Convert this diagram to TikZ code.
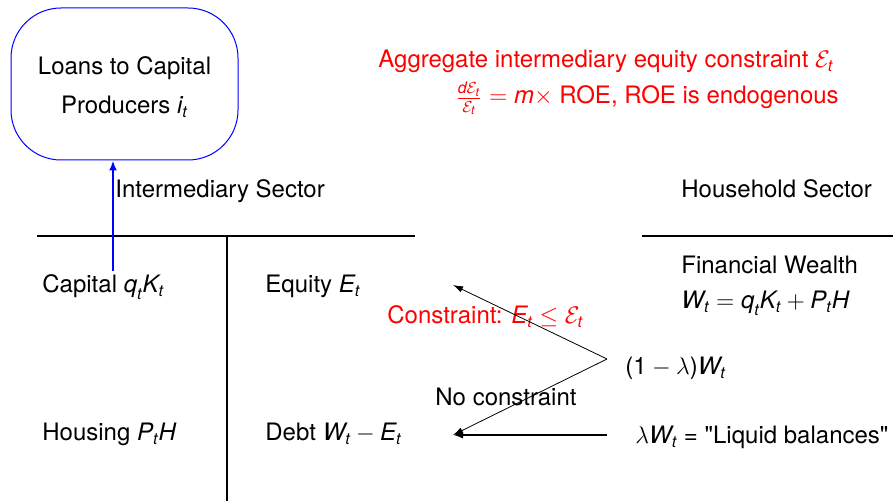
\documentclass[tikz,border=0pt]{standalone}
\usepackage{amsmath}
\usepackage{fontspec}
\setmainfont{TeX Gyre Heros}
\usetikzlibrary{arrows.meta}
\newcommand\vi[1]{\textit{#1}}
\newcommand\sbt[1]{\vi{#1}_{\vi{t}}}
\begin{document}
\begin{tikzpicture}[x=0.5pt,y=-0.5pt,
  font=\fontsize{12}{14.4}\selectfont,
  txt/.style={inner sep=0pt, anchor=base west},
  thinarrow/.style={-{Latex[length=5pt,width=3.2pt]}, line width=0.4pt},
  thickarrow/.style={-{Latex[length=5pt,width=3.6pt]}, line width=0.9pt},
  rulel/.style={line width=0.7pt}]
\useasboundingbox (0,0) rectangle (893,501);
% loans box
\node[draw=blue, line width=0.5pt, rounded corners=25pt, minimum width=113.5pt,
      minimum height=76pt, inner sep=0pt] (loans) at (124.5,84) {};
\node[align=center, inner sep=0pt] (loanstxt) at (124.5,87)
  {Loans to Capital\\[5pt] Producers $\sbt{i}$};
% red texts
\node[txt, text=red] (agg) at (378,68) {Aggregate intermediary equity constraint $\mathcal{E}_{\vi{t}}$};
\node[txt, text=red] (roe) at (455,104) {$\frac{\vi{d}\mathcal{E}_{\vi{t}}}{\mathcal{E}_{\vi{t}}} = \vi{m}\times$ ROE, ROE is endogenous};
% sector labels
\node[txt] (inter) at (115,198) {Intermediary Sector};
\node[txt] (house) at (681,198) {Household Sector};
% rules
\coordinate (l1) at (37,236);
\coordinate (l2) at (415,236);
\coordinate (r1) at (642,236);
\coordinate (r2) at (893,236);
\coordinate (v1) at (227,236);
\coordinate (v2) at (227,501);
\draw[rulel] (l1) -- (l2);
\draw[rulel] (r1) -- (r2);
\draw[rulel] (v1) -- (v2);
% balance sheet entries
\node[txt] (cap) at (42,293) {Capital $\sbt{q}\sbt{K}$};
\node[txt] (eq) at (265,293) {Equity $\sbt{E}$};
\node[txt] (hous) at (42,441) {Housing $\sbt{P}\vi{H}$};
\node[txt] (debt) at (265,441) {Debt $\sbt{W} - \sbt{E}$};
% household
\node[txt] (fw) at (681,274) {Financial Wealth};
\node[txt] (wt) at (681,309) {$\sbt{W} = \sbt{q}\sbt{K} + \sbt{P}\vi{H}$};
\node[txt] (oml) at (625,375) {$\text{(1}-\lambda\text{)}\sbt{W}$};
\node[txt] (lam) at (635,444) {$\lambda\sbt{W}$ = \textquotedbl Liquid balances\textquotedbl};
% constraint labels
\node[txt, text=red] (cons) at (387,324) {Constraint: $\sbt{E}\leq\mathcal{E}_{\vi{t}}$};
\node[txt] (nocons) at (435,406) {No constraint};
% arrows
\coordinate (src) at (607,359);
\coordinate (eqt) at (453,285);
\coordinate (debtt) at (453,435);
\coordinate (lsrc) at (607,435);
\draw[thinarrow] (src) -- (eqt);
\draw[thinarrow] (src) -- (debtt);
\draw[thickarrow] (lsrc) -- (debtt);
% blue arrow
\coordinate (bstart) at (113,271);
\draw[blue, line width=1pt, -{Latex[length=5pt,width=4pt]}] (bstart) -- (bstart |- loans.south);
\end{tikzpicture}
\end{document}
